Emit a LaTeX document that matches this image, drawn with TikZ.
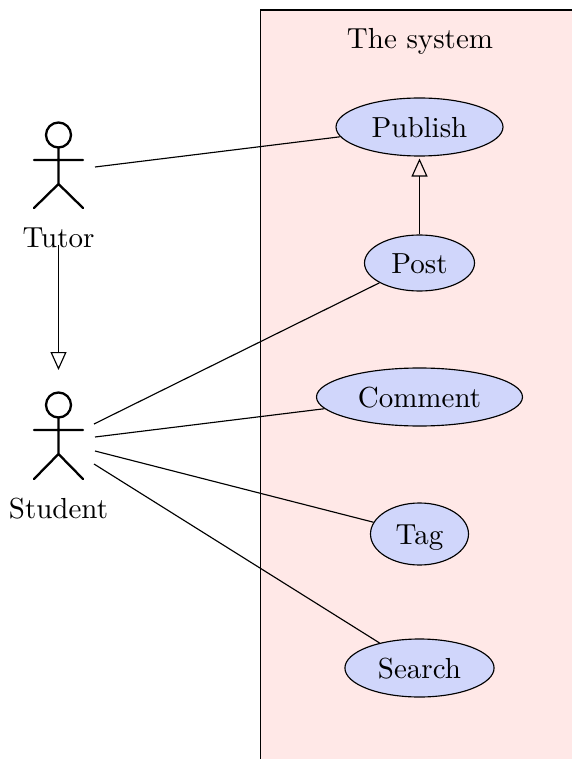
\documentclass[tikz,border=0pt]{standalone}
\usetikzlibrary{shapes.geometric,arrows.meta}
\definecolor{sysfill}{HTML}{FFE8E7}
\definecolor{casefill}{HTML}{D0D6FB}
\tikzset{
  every node/.style={font=\fontsize{10.15}{12}\selectfont},
  usecase/.style={ellipse,draw=black,line width=0.4pt,fill=casefill,inner sep=0pt,text height=7.3pt,text depth=0pt},
  assoc/.style={draw=black,line width=0.4pt},
  generalize/.style={assoc,-{Triangle[open,fill=none,length=6.3pt,width=5.6pt]}},
  actorline/.style={draw=black,line width=0.8pt,line cap=round},
  plain/.style={inner sep=0pt,anchor=base}
}
\begin{document}
\begin{tikzpicture}[x=0.35pt,y=-0.35pt]
\useasboundingbox (0,0) rectangle (572,759);
\fill[sysfill] (260.5,10) rectangle (572,759);
\draw[line width=0.4pt] (260.5,759) -- (260.5,10) -- (572,10);
\node[plain] (title) at (420,49) {The system};
\node[usecase,minimum width=58.45pt,minimum height=20.3pt] (publish) at (419.5,127) {Publish};
\node[usecase,minimum width=38.5pt,minimum height=19.6pt] (post) at (419.5,263) {Post};
\node[usecase,minimum width=72.1pt,minimum height=20.3pt] (comment) at (419.5,397) {Comment};
\node[usecase,minimum width=34.3pt,minimum height=21.7pt] (tag) at (419.5,534) {Tag};
\node[usecase,minimum width=52.2pt,minimum height=20.3pt] (search) at (419.5,668) {Search};
% Tutor
\draw[actorline] (58.5,135) circle[radius=12.5];
\draw[actorline] (34,160) -- (83,160) (58.5,147.5) -- (58.5,184) (34,208) -- (58.5,184) -- (83,208);
\node[plain] (tutor) at (58.5,247.5) {Tutor};
% Student
\draw[actorline] (58.5,405) circle[radius=12.5];
\draw[actorline] (34,430) -- (83,430) (58.5,417.5) -- (58.5,454) (34,479) -- (58.5,454) -- (83,479);
\node[plain] (student) at (58.5,518.5) {Student};
% free ends
\coordinate (tutorEnd) at (95,167);
\coordinate (tutorDown) at (58.5,245);
\coordinate (studentTop) at (58.5,370);
\coordinate (s1) at (94,424);
\coordinate (s2) at (95,437);
\coordinate (s3) at (95,451);
\coordinate (s4) at (94,464);
\draw[assoc] (tutorEnd) -- (publish);
\draw[assoc] (s1) -- (post);
\draw[assoc] (s2) -- (comment);
\draw[assoc] (s3) -- (tag);
\draw[assoc] (s4) -- (search);
\draw[generalize,shorten >=0.7pt] (post) -- (publish);
\draw[generalize] (tutorDown) -- (studentTop);
\end{tikzpicture}
\end{document}
